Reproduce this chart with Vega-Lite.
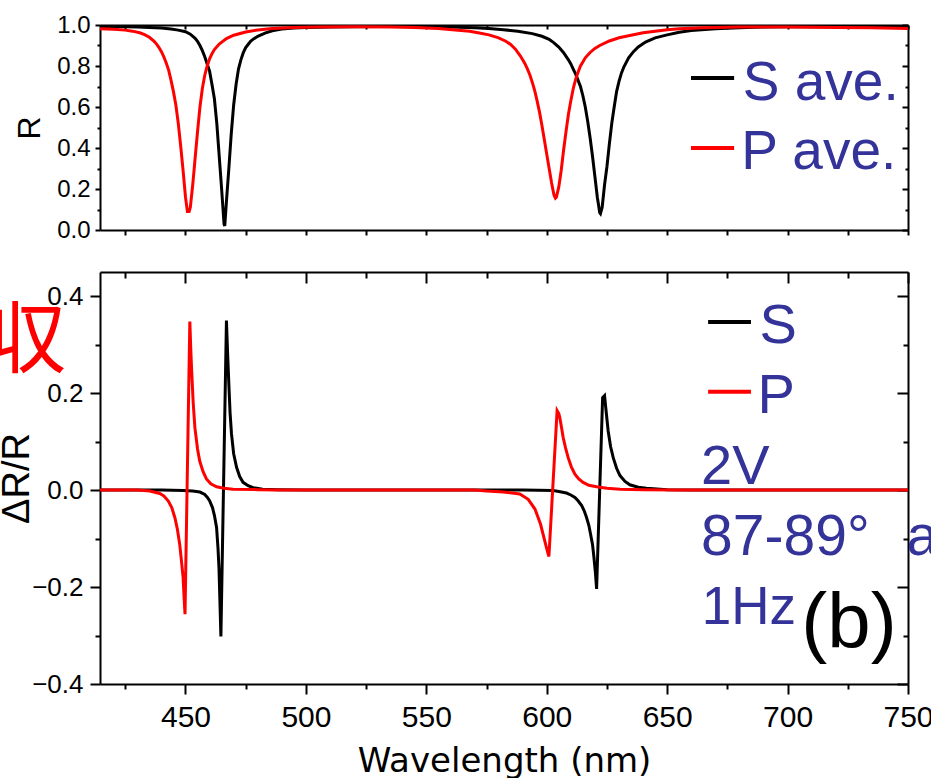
{
"$schema":"https://vega.github.io/schema/vega-lite/v6.json",
"background":"white",
"padding":{"left":-12,"top":13,"right":-8,"bottom":6},
"spacing":42,
"bounds":"flush",
"config":{"view":{"stroke":null},"axis":{"grid":false,"domainColor":"black","domainWidth":2,"tickColor":"black","tickWidth":2,"labelColor":"black","titleColor":"black","labelFlush":false,"labelBound":false,"labelOverlap":false}},
"datasets":{
"topS":[{"nm":414.5,"R":0.993},{"nm":420,"R":0.992},{"nm":425,"R":0.991},{"nm":430,"R":0.99},{"nm":435,"R":0.988},{"nm":440,"R":0.985},{"nm":444,"R":0.98},{"nm":447,"R":0.975},{"nm":450,"R":0.967},{"nm":452,"R":0.955},{"nm":454,"R":0.935},{"nm":455,"R":0.92},{"nm":456,"R":0.9},{"nm":457,"R":0.875},{"nm":458,"R":0.845},{"nm":459,"R":0.81},{"nm":460,"R":0.775},{"nm":461,"R":0.71},{"nm":462,"R":0.64},{"nm":463,"R":0.52},{"nm":464,"R":0.36},{"nm":465,"R":0.2},{"nm":466,"R":0.03},{"nm":466.3,"R":0.02},{"nm":467,"R":0.14},{"nm":468,"R":0.3},{"nm":469,"R":0.47},{"nm":470,"R":0.61},{"nm":471,"R":0.71},{"nm":472,"R":0.785},{"nm":473,"R":0.83},{"nm":474,"R":0.865},{"nm":475,"R":0.89},{"nm":476,"R":0.905},{"nm":477,"R":0.92},{"nm":478,"R":0.93},{"nm":480,"R":0.945},{"nm":483,"R":0.96},{"nm":486,"R":0.972},{"nm":490,"R":0.98},{"nm":495,"R":0.985},{"nm":500,"R":0.988},{"nm":510,"R":0.99},{"nm":520,"R":0.992},{"nm":530,"R":0.993},{"nm":540,"R":0.993},{"nm":550,"R":0.992},{"nm":560,"R":0.99},{"nm":570,"R":0.987},{"nm":576,"R":0.983},{"nm":582,"R":0.977},{"nm":588,"R":0.97},{"nm":594,"R":0.958},{"nm":598,"R":0.945},{"nm":601,"R":0.93},{"nm":603,"R":0.913},{"nm":605,"R":0.892},{"nm":607,"R":0.865},{"nm":609,"R":0.83},{"nm":610,"R":0.81},{"nm":611,"R":0.785},{"nm":612,"R":0.76},{"nm":613,"R":0.73},{"nm":614,"R":0.7},{"nm":615,"R":0.655},{"nm":616,"R":0.6},{"nm":617,"R":0.53},{"nm":618,"R":0.45},{"nm":619,"R":0.36},{"nm":620,"R":0.26},{"nm":621,"R":0.16},{"nm":622,"R":0.085},{"nm":622.3,"R":0.08},{"nm":623,"R":0.11},{"nm":624,"R":0.22},{"nm":625,"R":0.31},{"nm":626,"R":0.42},{"nm":627,"R":0.52},{"nm":628,"R":0.6},{"nm":629,"R":0.675},{"nm":630,"R":0.725},{"nm":631,"R":0.765},{"nm":632,"R":0.795},{"nm":634,"R":0.84},{"nm":636,"R":0.87},{"nm":638,"R":0.893},{"nm":641,"R":0.917},{"nm":645,"R":0.937},{"nm":650,"R":0.952},{"nm":655,"R":0.965},{"nm":660,"R":0.973},{"nm":670,"R":0.982},{"nm":680,"R":0.987},{"nm":690,"R":0.99},{"nm":700,"R":0.991},{"nm":720,"R":0.992},{"nm":750,"R":0.992}],
"topP":[{"nm":414.5,"R":0.982},{"nm":420,"R":0.979},{"nm":425,"R":0.975},{"nm":428,"R":0.97},{"nm":431,"R":0.962},{"nm":433,"R":0.953},{"nm":435,"R":0.94},{"nm":437,"R":0.92},{"nm":438,"R":0.907},{"nm":439,"R":0.89},{"nm":440,"R":0.87},{"nm":441,"R":0.845},{"nm":442,"R":0.815},{"nm":443,"R":0.78},{"nm":444,"R":0.73},{"nm":445,"R":0.675},{"nm":446,"R":0.61},{"nm":447,"R":0.52},{"nm":448,"R":0.41},{"nm":449,"R":0.29},{"nm":450,"R":0.16},{"nm":450.8,"R":0.09},{"nm":451.5,"R":0.09},{"nm":452,"R":0.11},{"nm":453,"R":0.22},{"nm":454,"R":0.35},{"nm":455,"R":0.48},{"nm":456,"R":0.6},{"nm":457,"R":0.69},{"nm":458,"R":0.755},{"nm":459,"R":0.8},{"nm":460,"R":0.835},{"nm":461,"R":0.86},{"nm":462,"R":0.88},{"nm":464,"R":0.907},{"nm":467,"R":0.934},{"nm":470,"R":0.95},{"nm":475,"R":0.966},{"nm":480,"R":0.976},{"nm":486,"R":0.983},{"nm":495,"R":0.988},{"nm":505,"R":0.99},{"nm":520,"R":0.991},{"nm":535,"R":0.99},{"nm":545,"R":0.988},{"nm":555,"R":0.983},{"nm":562,"R":0.976},{"nm":568,"R":0.969},{"nm":572,"R":0.961},{"nm":576,"R":0.952},{"nm":580,"R":0.937},{"nm":583,"R":0.921},{"nm":585,"R":0.905},{"nm":587,"R":0.882},{"nm":589,"R":0.85},{"nm":590,"R":0.83},{"nm":591,"R":0.81},{"nm":592,"R":0.785},{"nm":593,"R":0.756},{"nm":594,"R":0.72},{"nm":595,"R":0.68},{"nm":596,"R":0.63},{"nm":597,"R":0.575},{"nm":598,"R":0.51},{"nm":599,"R":0.44},{"nm":600,"R":0.37},{"nm":601,"R":0.3},{"nm":602,"R":0.23},{"nm":603,"R":0.17},{"nm":603.6,"R":0.155},{"nm":604,"R":0.16},{"nm":605,"R":0.21},{"nm":606,"R":0.29},{"nm":607,"R":0.39},{"nm":608,"R":0.48},{"nm":609,"R":0.565},{"nm":610,"R":0.63},{"nm":611,"R":0.69},{"nm":612,"R":0.735},{"nm":613,"R":0.77},{"nm":614,"R":0.8},{"nm":615,"R":0.82},{"nm":616,"R":0.84},{"nm":618,"R":0.866},{"nm":620,"R":0.886},{"nm":622,"R":0.9},{"nm":626,"R":0.922},{"nm":630,"R":0.938},{"nm":635,"R":0.95},{"nm":640,"R":0.962},{"nm":645,"R":0.97},{"nm":650,"R":0.977},{"nm":655,"R":0.982},{"nm":665,"R":0.987},{"nm":680,"R":0.99},{"nm":700,"R":0.99},{"nm":720,"R":0.988},{"nm":735,"R":0.986},{"nm":750,"R":0.983}],
"botS":[{"nm":414.5,"d":0},{"nm":440,"d":0},{"nm":449,"d":-0.001},{"nm":453,"d":-0.002},{"nm":456,"d":-0.004},{"nm":458,"d":-0.009},{"nm":459.1,"d":-0.015},{"nm":460,"d":-0.022},{"nm":461.2,"d":-0.036},{"nm":462,"d":-0.052},{"nm":462.9,"d":-0.077},{"nm":463.5,"d":-0.12},{"nm":463.9,"d":-0.16},{"nm":464.3,"d":-0.23},{"nm":464.7,"d":-0.302},{"nm":467.0,"d":0.35},{"nm":467.5,"d":0.28},{"nm":468.0,"d":0.219},{"nm":468.5,"d":0.16},{"nm":469.1,"d":0.116},{"nm":470,"d":0.075},{"nm":471.2,"d":0.047},{"nm":472.5,"d":0.028},{"nm":473.9,"d":0.016},{"nm":476,"d":0.009},{"nm":478.1,"d":0.005},{"nm":482,"d":0.002},{"nm":488,"d":0.001},{"nm":500,"d":0},{"nm":590,"d":0},{"nm":602.7,"d":-0.001},{"nm":605,"d":-0.003},{"nm":608.2,"d":-0.006},{"nm":610,"d":-0.01},{"nm":611.7,"d":-0.015},{"nm":613,"d":-0.022},{"nm":614.5,"d":-0.032},{"nm":615.5,"d":-0.042},{"nm":616.5,"d":-0.056},{"nm":617.5,"d":-0.073},{"nm":618.2,"d":-0.091},{"nm":619,"d":-0.112},{"nm":619.6,"d":-0.139},{"nm":620.2,"d":-0.17},{"nm":620.7,"d":-0.204},{"nm":623.2,"d":0.191},{"nm":624.0,"d":0.195},{"nm":624.5,"d":0.17},{"nm":625.5,"d":0.122},{"nm":626.5,"d":0.09},{"nm":627.6,"d":0.067},{"nm":629,"d":0.045},{"nm":630.4,"d":0.03},{"nm":632.5,"d":0.018},{"nm":634.5,"d":0.011},{"nm":638,"d":0.006},{"nm":641.4,"d":0.004},{"nm":650,"d":0.001},{"nm":660,"d":0},{"nm":750,"d":0}],
"botP":[{"nm":414.5,"d":0},{"nm":430,"d":0},{"nm":435.2,"d":-0.002},{"nm":439.3,"d":-0.007},{"nm":441,"d":-0.012},{"nm":442.8,"d":-0.022},{"nm":444.3,"d":-0.036},{"nm":445.6,"d":-0.057},{"nm":446.6,"d":-0.08},{"nm":447.6,"d":-0.112},{"nm":448.3,"d":-0.145},{"nm":449.0,"d":-0.18},{"nm":449.4,"d":-0.22},{"nm":449.8,"d":-0.256},{"nm":451.8,"d":0.348},{"nm":452.2,"d":0.29},{"nm":452.5,"d":0.253},{"nm":453.2,"d":0.18},{"nm":453.9,"d":0.129},{"nm":455.0,"d":0.085},{"nm":455.9,"d":0.06},{"nm":457.3,"d":0.038},{"nm":458.7,"d":0.023},{"nm":460.5,"d":0.013},{"nm":462.9,"d":0.007},{"nm":466,"d":0.004},{"nm":469.7,"d":0.002},{"nm":480,"d":0.001},{"nm":490,"d":0},{"nm":570,"d":0},{"nm":575,"d":-0.002},{"nm":582,"d":-0.004},{"nm":588.8,"d":-0.008},{"nm":592.3,"d":-0.019},{"nm":595.1,"d":-0.039},{"nm":597.4,"d":-0.07},{"nm":599.2,"d":-0.105},{"nm":600.2,"d":-0.125},{"nm":600.9,"d":-0.137},{"nm":604.3,"d":0.164},{"nm":605.0,"d":0.158},{"nm":605.4,"d":0.15},{"nm":606.1,"d":0.13},{"nm":606.8,"d":0.109},{"nm":607.8,"d":0.087},{"nm":608.9,"d":0.067},{"nm":610.2,"d":0.048},{"nm":611.7,"d":0.033},{"nm":613.3,"d":0.023},{"nm":615.1,"d":0.016},{"nm":617.5,"d":0.01},{"nm":620.7,"d":0.007},{"nm":625,"d":0.004},{"nm":630.4,"d":0.002},{"nm":640,"d":0.001},{"nm":655,"d":0},{"nm":750,"d":0}],
"one":[{}]
},
"vconcat":[
{
"width":808,"height":205,
"resolve":{"axis":{"x":"independent","y":"independent"}},
"layer":[
{"data":{"name":"topS"},"mark":{"type":"line","color":"black","strokeWidth":3},
"encoding":{
"x":{"field":"nm","type":"quantitative","scale":{"domain":[414.5,750],"nice":false,"zero":false},
"axis":{"orient":"bottom","values":[425,450,475,500,525,550,575,600,625,650,675,700,725,750],"labels":false,"title":null,"tickSize":5}},
"y":{"field":"R","type":"quantitative","scale":{"domain":[0,1],"nice":false,"zero":false},
"axis":{"orient":"left","values":[0,0.1,0.2,0.3,0.4,0.5,0.6,0.7,0.8,0.9,1],"format":".1f","labelExpr":"round(datum.value*10)%2==0 ? datum.label : ''","tickSize":{"condition":{"test":"round(datum.value*10)%2==0","value":5},"value":3},"labelFont":"Liberation Sans","labelFontSize":24,"labelPadding":5,"title":"R","titleFont":"Liberation Sans","titleFontSize":32,"titleFontWeight":"normal","titlePadding":10}}}},
{"data":{"name":"topP"},"mark":{"type":"line","color":"#ff0000","strokeWidth":3},
"encoding":{
"x":{"field":"nm","type":"quantitative","scale":{"domain":[414.5,750],"nice":false,"zero":false},
"axis":{"orient":"top","values":[425,450,475,500,525,550,575,600,625,650,675,700,725,750],"labels":false,"title":null,"tickSize":-4}},
"y":{"field":"R","type":"quantitative","scale":{"domain":[0,1],"nice":false,"zero":false},
"axis":{"orient":"right","values":[0,0.1,0.2,0.3,0.4,0.5,0.6,0.7,0.8,0.9,1],"labels":false,"title":null,"tickSize":{"condition":{"test":"round(datum.value*10)%2==0","value":-6},"value":-3}}}}},
{"data":{"name":"one"},"mark":{"type":"rule","color":"black","strokeWidth":4},
"encoding":{"x":{"datum":659.9,"type":"quantitative","axis":null},"x2":{"datum":677.8},"y":{"datum":0.741,"type":"quantitative","axis":null}}},
{"data":{"name":"one"},"mark":{"type":"rule","color":"#ff0000","strokeWidth":4},
"encoding":{"x":{"datum":659.9,"type":"quantitative","axis":null},"x2":{"datum":677.8},"y":{"datum":0.4,"type":"quantitative","axis":null}}},
{"data":{"name":"one"},"mark":{"type":"text","text":"S ave.","font":"Liberation Sans","fontSize":55,"color":"#333399","align":"left","baseline":"alphabetic"},
"encoding":{"x":{"datum":681.4,"type":"quantitative","axis":null},"y":{"datum":0.634,"type":"quantitative","axis":null}}},
{"data":{"name":"one"},"mark":{"type":"text","text":"P ave.","font":"Liberation Sans","fontSize":55,"color":"#333399","align":"left","baseline":"alphabetic"},
"encoding":{"x":{"datum":680.8,"type":"quantitative","axis":null},"y":{"datum":0.298,"type":"quantitative","axis":null}}}
]
},
{
"width":808,"height":412,
"resolve":{"axis":{"x":"independent","y":"independent"}},
"layer":[
{"data":{"name":"botS"},"mark":{"type":"line","color":"black","strokeWidth":3},
"encoding":{
"x":{"field":"nm","type":"quantitative","scale":{"domain":[414.5,750],"nice":false,"zero":false},
"axis":{"orient":"bottom","values":[425,450,475,500,525,550,575,600,625,650,675,700,725,750],"labelExpr":"datum.value%50==0 ? datum.label : ''","tickSize":{"condition":{"test":"datum.value%50==0","value":10},"value":5},"labelFont":"Liberation Sans","labelFontSize":30,"labelPadding":8,"title":"Wavelength (nm)","titleFont":"DejaVu Sans","titleFontSize":34,"titleFontWeight":"normal","titlePadding":12}},
"y":{"field":"d","type":"quantitative","scale":{"domain":[-0.4,0.45],"nice":false,"zero":false},
"axis":{"orient":"left","values":[-0.4,-0.3,-0.2,-0.1,0,0.1,0.2,0.3,0.4],"format":".1f","labelExpr":"round(datum.value*10)%2==0 ? datum.label : ''","tickSize":{"condition":{"test":"round(datum.value*10)%2==0","value":10},"value":5},"labelFont":"Liberation Sans","labelFontSize":26,"labelPadding":7,"title":"ΔR/R","titleFont":"Liberation Sans","titleFontSize":38,"titleFontWeight":"normal","titlePadding":-5}}}},
{"data":{"name":"botP"},"mark":{"type":"line","color":"#ff0000","strokeWidth":3},
"encoding":{
"x":{"field":"nm","type":"quantitative","scale":{"domain":[414.5,750],"nice":false,"zero":false},
"axis":{"orient":"top","values":[425,450,475,500,525,550,575,600,625,650,675,700,725,750],"labels":false,"title":null,"tickSize":{"condition":{"test":"datum.value%50==0","value":-11},"value":-6}}},
"y":{"field":"d","type":"quantitative","scale":{"domain":[-0.4,0.45],"nice":false,"zero":false},
"axis":{"orient":"right","values":[-0.4,-0.3,-0.2,-0.1,0,0.1,0.2,0.3,0.4],"labels":false,"title":null,"tickSize":{"condition":{"test":"round(datum.value*10)%2==0","value":-11},"value":-5}}}}},
{"data":{"name":"one"},"mark":{"type":"rule","color":"black","strokeWidth":4},
"encoding":{"x":{"datum":667.0,"type":"quantitative","axis":null},"x2":{"datum":684.8},"y":{"datum":0.347,"type":"quantitative","axis":null}}},
{"data":{"name":"one"},"mark":{"type":"rule","color":"#ff0000","strokeWidth":4},
"encoding":{"x":{"datum":667.0,"type":"quantitative","axis":null},"x2":{"datum":684.8},"y":{"datum":0.203,"type":"quantitative","axis":null}}},
{"data":{"name":"one"},"mark":{"type":"text","text":"S","font":"Liberation Sans","fontSize":56,"color":"#333399","align":"left","baseline":"alphabetic"},
"encoding":{"x":{"datum":688.3,"type":"quantitative","axis":null},"y":{"datum":0.304,"type":"quantitative","axis":null}}},
{"data":{"name":"one"},"mark":{"type":"text","text":"P","font":"Liberation Sans","fontSize":56,"color":"#333399","align":"left","baseline":"alphabetic"},
"encoding":{"x":{"datum":687.5,"type":"quantitative","axis":null},"y":{"datum":0.16,"type":"quantitative","axis":null}}},
{"data":{"name":"one"},"mark":{"type":"text","text":"2V","font":"Liberation Sans","fontSize":56,"color":"#333399","align":"left","baseline":"alphabetic"},
"encoding":{"x":{"datum":664.1,"type":"quantitative","axis":null},"y":{"datum":0.013,"type":"quantitative","axis":null}}},
{"data":{"name":"one"},"mark":{"type":"text","text":"87-89°","font":"Liberation Sans","fontSize":57,"color":"#333399","align":"left","baseline":"alphabetic"},
"encoding":{"x":{"datum":664.1,"type":"quantitative","axis":null},"y":{"datum":-0.134,"type":"quantitative","axis":null}}},
{"data":{"name":"one"},"mark":{"type":"text","text":"a","font":"Liberation Sans","fontSize":57,"color":"#333399","align":"left","baseline":"alphabetic"},
"encoding":{"x":{"datum":749.4,"type":"quantitative","axis":null},"y":{"datum":-0.134,"type":"quantitative","axis":null}}},
{"data":{"name":"one"},"mark":{"type":"text","text":"1Hz","font":"Liberation Sans","fontSize":53,"color":"#333399","align":"left","baseline":"alphabetic"},
"encoding":{"x":{"datum":664.4,"type":"quantitative","axis":null},"y":{"datum":-0.276,"type":"quantitative","axis":null}}},
{"data":{"name":"one"},"mark":{"type":"text","text":"(b)","font":"Liberation Sans","fontSize":78,"color":"black","align":"left","baseline":"alphabetic"},
"encoding":{"x":{"datum":705.7,"type":"quantitative","axis":null},"y":{"datum":-0.3255,"type":"quantitative","axis":null}}},
{"data":{"name":"one"},"mark":{"type":"text","text":"収","font":"Noto Sans CJK JP","fontSize":78,"color":"#ff0000","align":"right","baseline":"alphabetic"},
"encoding":{"x":{"datum":400.4,"type":"quantitative","axis":null},"y":{"datum":0.254,"type":"quantitative","axis":null}}}
]
}
]
}
